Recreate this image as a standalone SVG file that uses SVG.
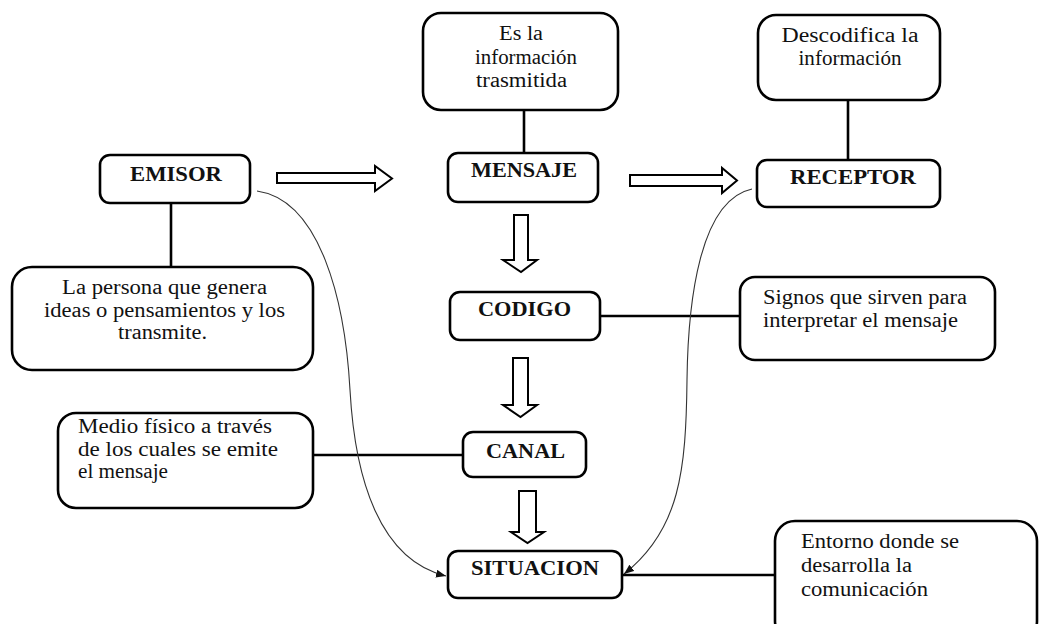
<svg xmlns="http://www.w3.org/2000/svg" width="1039" height="624" viewBox="0 0 1039 624">
<style>
.box{fill:#fff;stroke:#000;stroke-width:2.6}
.lbl{font-family:"Liberation Serif","Times New Roman","DejaVu Serif",serif;font-weight:bold;font-size:20px;fill:#111;text-anchor:middle}
.txt{font-family:"Liberation Serif","Times New Roman","DejaVu Serif",serif;font-weight:normal;font-size:20px;fill:#111}
.c{text-anchor:middle}
.ln{stroke:#000;stroke-width:2.6;fill:none}
.cv{stroke:#333;stroke-width:1.1;fill:none;marker-end:url(#ah)}
.blk{fill:#fff;stroke:#000;stroke-width:2;stroke-linejoin:miter}
</style>
<defs>
<marker id="ah" viewBox="0 0 10 8" refX="10" refY="4" markerWidth="10" markerHeight="8" markerUnits="userSpaceOnUse" orient="auto">
<path d="M0,0 L10,4 L0,8 Z" fill="#111"/>
</marker>
</defs>
<rect width="1039" height="624" fill="#fff"/>
<g id="connectors">
<line class="ln" x1="171" y1="203" x2="171" y2="267"/>
<line class="ln" x1="524" y1="110" x2="524" y2="153"/>
<line class="ln" x1="848" y1="100" x2="848" y2="160"/>
<line class="ln" x1="600" y1="316" x2="740" y2="316"/>
<line class="ln" x1="313" y1="455" x2="463" y2="455"/>
<line class="ln" x1="622" y1="575" x2="775" y2="575"/>
<path class="cv" d="M257,191 C320,200 345,300 350,390 C355,480 380,560 446,576"/>
<path class="cv" d="M752,189 C700,200 688,300 687,380 C686,470 680,530 624,574"/>
<path class="blk" d="M277,173 H375 V166 L392,178.5 L375,191 V183 H277 Z"/>
<path class="blk" d="M630,175 H722 V168 L737,180.5 L722,193 V186 H630 Z"/>
<path class="blk" d="M514,215 H528 V260 H537 L521,272 L503,260 H514 Z"/>
<path class="blk" d="M513,358 H528 V405 H537 L520.5,417 L503,405 H513 Z"/>
<path class="blk" d="M519,491 H536 V532 H544 L527.5,543 L511,532 H519 Z"/>
</g>
<g id="emisor"><rect class="box" x="100" y="155" width="150" height="48" rx="10"/><text class="lbl" x="176" y="181" textLength="92" lengthAdjust="spacingAndGlyphs">EMISOR</text></g>
<g id="emisor-desc"><rect class="box" x="12" y="267" width="301" height="103" rx="20"/>
<text class="txt c" x="164.5" y="294" textLength="205" lengthAdjust="spacingAndGlyphs">La persona que genera</text>
<text class="txt c" x="164.5" y="317" textLength="241" lengthAdjust="spacingAndGlyphs">ideas o pensamientos y los</text>
<text class="txt c" x="162.5" y="339" textLength="89" lengthAdjust="spacingAndGlyphs">transmite.</text></g>
<g id="mensaje-desc"><rect class="box" x="423" y="13" width="195" height="97" rx="18"/>
<text class="txt c" x="521" y="40" textLength="44" lengthAdjust="spacingAndGlyphs">Es la</text>
<text class="txt c" x="526" y="64" textLength="102" lengthAdjust="spacingAndGlyphs">información</text>
<text class="txt c" x="521.5" y="87" textLength="91" lengthAdjust="spacingAndGlyphs">trasmitida</text></g>
<g id="mensaje"><rect class="box" x="448" y="153" width="150" height="49" rx="10"/><text class="lbl" x="524" y="177" textLength="106" lengthAdjust="spacingAndGlyphs">MENSAJE</text></g>
<g id="receptor-desc"><rect class="box" x="758" y="15" width="182" height="85" rx="18"/>
<text class="txt c" x="850" y="42" textLength="137" lengthAdjust="spacingAndGlyphs">Descodifica la</text>
<text class="txt c" x="850" y="65" textLength="103" lengthAdjust="spacingAndGlyphs">información</text></g>
<g id="receptor"><rect class="box" x="757" y="160" width="183" height="47" rx="10"/><text class="lbl" x="853" y="184" textLength="126" lengthAdjust="spacingAndGlyphs">RECEPTOR</text></g>
<g id="codigo"><rect class="box" x="450" y="292" width="150" height="48" rx="10"/><text class="lbl" x="524.5" y="316" textLength="93" lengthAdjust="spacingAndGlyphs">CODIGO</text></g>
<g id="codigo-desc"><rect class="box" x="740" y="277" width="255" height="83" rx="15"/>
<text class="txt" x="763" y="304" textLength="204" lengthAdjust="spacingAndGlyphs">Signos que sirven para</text>
<text class="txt" x="763" y="327" textLength="195" lengthAdjust="spacingAndGlyphs">interpretar el mensaje</text></g>
<g id="canal"><rect class="box" x="463" y="432" width="123" height="45" rx="10"/><text class="lbl" x="525.5" y="458" textLength="79" lengthAdjust="spacingAndGlyphs">CANAL</text></g>
<g id="canal-desc"><rect class="box" x="58" y="413" width="255" height="95" rx="18"/>
<text class="txt" x="78" y="433" textLength="194" lengthAdjust="spacingAndGlyphs">Medio físico a través</text>
<text class="txt" x="78" y="456" textLength="200" lengthAdjust="spacingAndGlyphs">de los cuales se emite</text>
<text class="txt" x="78" y="478" textLength="90" lengthAdjust="spacingAndGlyphs">el mensaje</text></g>
<g id="situacion"><rect class="box" x="448" y="551" width="174" height="47" rx="10"/><text class="lbl" x="535" y="575" textLength="128" lengthAdjust="spacingAndGlyphs">SITUACION</text></g>
<g id="situacion-desc"><rect class="box" x="775" y="521" width="262" height="120" rx="20"/>
<text class="txt" x="801" y="548" textLength="158" lengthAdjust="spacingAndGlyphs">Entorno donde se</text>
<text class="txt" x="801" y="572" textLength="111" lengthAdjust="spacingAndGlyphs">desarrolla la</text>
<text class="txt" x="801" y="596" textLength="127" lengthAdjust="spacingAndGlyphs">comunicación</text></g>
</svg>
